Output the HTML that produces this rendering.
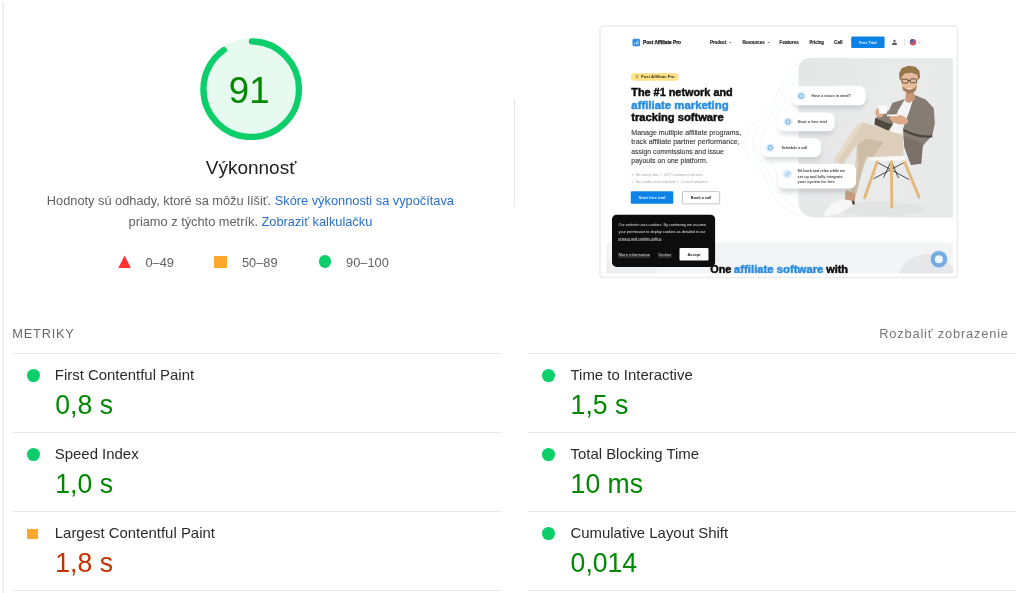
<!DOCTYPE html>
<html lang="sk">
<head>
<meta charset="utf-8">
<title>Výkonnosť</title>
<style>
html,body{margin:0;padding:0;background:#fff;}
body{width:1024px;height:593px;position:relative;overflow:hidden;font-family:"Liberation Sans",Arial,sans-serif;color:#212121;}
.abs{position:absolute;white-space:nowrap;}
.vline-left{position:absolute;left:2.1px;top:2px;width:1.7px;height:591px;background:#efefef;}
.divider{position:absolute;left:514.2px;top:98.8px;width:1px;height:108.6px;background:#e6e6e6;}
.title{left:-3px;width:502px;text-align:center;top:154.5px;font-size:19px;line-height:26px;color:#212121;left:0;}
.desc{left:-0.6px;width:502px;text-align:center;font-size:12.8px;line-height:21.33px;color:#616161;}
.desc a{color:#2a6fce;text-decoration:none;}
.legend{font-size:12.8px;line-height:16px;color:#616161;}
.hline{position:absolute;height:1px;background:#ebebeb;}
.mhead{font-size:12.8px;letter-spacing:0.78px;color:#686868;line-height:16px;}
.dot{position:absolute;width:12.8px;height:12.8px;border-radius:50%;background:#0cce6b;}
.sq{position:absolute;width:10.6px;height:10.6px;background:#ffa72b;}
.mt{font-size:14.93px;line-height:20px;color:#2b2b2b;transform:scaleY(1.03);transform-origin:0 15px;}
.mv{font-size:26.6px;line-height:30px;transform:scaleY(1.06);transform-origin:0 24.2px;}
.pass{color:#080;}
.avg{color:#c33300;}
</style>
</head>
<body>
<div class="vline-left"></div>

<!-- gauge -->
<svg class="abs" style="left:199.5px;top:37.6px" width="102.4" height="102.4" viewBox="0 0 120 120">
  <circle cx="60" cy="60" r="59.6" fill="#e7faf0"/>
  <circle cx="60" cy="60" r="56" fill="none" stroke="#0cce6b" stroke-width="7.4" stroke-linecap="round"
          stroke-dasharray="316.3 351.86" transform="rotate(-89.1 60 60)"/>
</svg>
<div class="abs pass" id="g91" style="left:198px;width:102.4px;text-align:center;top:69.2px;font-size:36.6px;line-height:44px;">91</div>

<div class="abs title">Výkonnosť</div>
<div class="abs desc" style="top:190px;">Hodnoty sú odhady, ktoré sa môžu líšiť. <a>Skóre výkonnosti sa vypočítava</a></div>
<div class="abs desc" style="top:211.3px;">priamo z týchto metrík. <a>Zobraziť kalkulačku</a></div>

<!-- legend -->
<svg class="abs" style="left:117.6px;top:255px" width="14" height="14" viewBox="0 0 14 14"><polygon points="6.6,0.5 12.9,13.1 0.3,13.1" fill="#f33"/></svg>
<div class="abs legend" style="left:145.5px;top:254.6px;">0–49</div>
<div class="sq" style="left:214.4px;top:255.7px;width:12.6px;height:12.4px;"></div>
<div class="abs legend" style="left:242px;top:254.6px;">50–89</div>
<div class="dot" style="left:318.6px;top:255.2px;"></div>
<div class="abs legend" style="left:346.1px;top:254.6px;">90–100</div>

<div class="divider"></div>

<!-- metrics header -->
<div class="abs mhead" style="left:12.3px;top:326px;">METRIKY</div>
<div class="abs mhead" style="right:15.2px;top:326px;color:#757575;letter-spacing:0.84px;">Rozbaliť zobrazenie</div>

<!-- left column -->
<div class="hline" style="left:12.3px;width:490px;top:353px;"></div>
<div class="hline" style="left:12.3px;width:490px;top:432px;"></div>
<div class="hline" style="left:12.3px;width:490px;top:511px;"></div>
<div class="hline" style="left:12.3px;width:490px;top:590px;"></div>
<!-- right column -->
<div class="hline" style="left:528.2px;width:488.2px;top:353px;"></div>
<div class="hline" style="left:528.2px;width:488.2px;top:432px;"></div>
<div class="hline" style="left:528.2px;width:488.2px;top:511px;"></div>
<div class="hline" style="left:528.2px;width:488.2px;top:590px;"></div>

<div class="dot" style="left:27.2px;top:369px;"></div>
<div class="abs mt" style="left:54.8px;top:364.9px;">First Contentful Paint</div>
<div class="abs mv pass" style="left:55.3px;top:389.9px;">0,8 s</div>

<div class="dot" style="left:27.2px;top:448px;"></div>
<div class="abs mt" style="left:54.8px;top:443.9px;">Speed Index</div>
<div class="abs mv pass" style="left:55.3px;top:468.9px;">1,0 s</div>

<div class="sq" style="left:27.1px;top:528.8px;width:11.4px;height:10.4px;"></div>
<div class="abs mt" style="left:54.8px;top:522.9px;">Largest Contentful Paint</div>
<div class="abs mv avg" style="left:55.3px;top:547.9px;">1,8 s</div>

<div class="dot" style="left:542.2px;top:369px;"></div>
<div class="abs mt" style="left:570.5px;top:364.9px;">Time to Interactive</div>
<div class="abs mv pass" style="left:570.6px;top:389.9px;">1,5 s</div>

<div class="dot" style="left:542.2px;top:448px;"></div>
<div class="abs mt" style="left:570.5px;top:443.9px;">Total Blocking Time</div>
<div class="abs mv pass" style="left:570.6px;top:468.9px;">10 ms</div>

<div class="dot" style="left:542.2px;top:527px;"></div>
<div class="abs mt" style="left:570.5px;top:522.9px;">Cumulative Layout Shift</div>
<div class="abs mv pass" style="left:570.6px;top:547.9px;">0,014</div>

<!-- THUMBNAIL -->
<svg id="thumb" class="abs" style="left:0;top:0;" width="1024" height="593" viewBox="0 0 1024 593" font-family="Liberation Sans, Arial, sans-serif">
  <defs>
    <clipPath id="inner"><rect x="604.5" y="30" width="348.7" height="243.6"/></clipPath>
    <linearGradient id="herobg" x1="0" y1="0" x2="1" y2="0.25">
      <stop offset="0" stop-color="#e5e7e7"/><stop offset="0.6" stop-color="#e9eaea"/><stop offset="1" stop-color="#e8e9e9"/>
    </linearGradient>
    <filter id="soft" x="-5%" y="-5%" width="110%" height="110%"><feGaussianBlur stdDeviation="0.6"/></filter>
    <filter id="shadow" x="-20%" y="-30%" width="140%" height="190%"><feGaussianBlur stdDeviation="2"/></filter>
  </defs>
  <!-- frame -->
  <rect x="600" y="26" width="357.4" height="251.4" rx="3" fill="#fff" stroke="#ececec" stroke-width="1.5" filter="url(#soft)"/>
  <g clip-path="url(#inner)"><g filter="url(#soft)">
    <!-- NAV -->
    <g id="t-nav">
      <rect x="632.5" y="38.7" width="7.6" height="7.6" rx="1.5" fill="#2b8fe6"/>
      <path d="M634.6 44.4v-1.6M636.3 44.4v-2.6M638 44.4v-3.8" stroke="#cfe6fa" stroke-width="0.9" fill="none"/>
      <text x="643" y="44.3" font-size="5" font-weight="700" fill="#1a1a1a" stroke="#1a1a1a" stroke-width="0.25" textLength="37.9" lengthAdjust="spacingAndGlyphs">Post Affiliate Pro</text>
      <g font-size="4.5" font-weight="700" fill="#2a2a2a" stroke="#2a2a2a" stroke-width="0.18">
        <text x="709.9" y="43.9" textLength="16.6" lengthAdjust="spacingAndGlyphs">Product</text>
        <path d="M729.2 42l1 1 1-1" stroke="#333" stroke-width="0.6" fill="none"/>
        <text x="742.4" y="43.9" textLength="22.2" lengthAdjust="spacingAndGlyphs">Resources</text>
        <path d="M767.8 42l1 1 1-1" stroke="#333" stroke-width="0.6" fill="none"/>
        <text x="779.6" y="43.9" textLength="19.2" lengthAdjust="spacingAndGlyphs">Features</text>
        <text x="809.4" y="43.9" textLength="14.6" lengthAdjust="spacingAndGlyphs">Pricing</text>
        <text x="834.1" y="43.9" textLength="8.4" lengthAdjust="spacingAndGlyphs">Call</text>
      </g>
      <rect x="851.2" y="36.5" width="33.4" height="11.5" rx="1.2" fill="#0f82e6"/>
      <text x="867.9" y="43.8" font-size="4.3" font-weight="700" fill="#e8f3fd" text-anchor="middle" textLength="17.5" lengthAdjust="spacingAndGlyphs">Free Trial</text>
      <circle cx="894.5" cy="40.9" r="1.15" fill="#555"/>
      <path d="M892.1 45v-.6c0-1.2 1-1.9 2.4-1.9s2.4.7 2.4 1.9v.6z" fill="#555"/>
      <path d="M904.5 39.2v6.2" stroke="#cfcfcf" stroke-width="0.6"/>
      <circle cx="913" cy="42.3" r="3.2" fill="#c8566b"/>
      <path d="M909.8 42.3a3.2 3.2 0 0 1 3.2-3.2v3.2z" fill="#4a5aa0"/>
      <path d="M918.6 41.8l1 1 1-1" stroke="#777" stroke-width="0.55" fill="none"/>
    </g>
    <!-- HERO LEFT -->
    <g id="t-left">
      <rect x="630.8" y="73.1" width="47.9" height="7.7" rx="3.85" fill="#ffe28a"/>
      <circle cx="637" cy="76.4" r="1.1" fill="none" stroke="#6b5a1a" stroke-width="0.5"/>
      <path d="M636.5 78.3h1" stroke="#6b5a1a" stroke-width="0.5"/>
      <text x="641" y="78.4" font-size="4.2" font-weight="700" fill="#3a3210" textLength="33.7" lengthAdjust="spacingAndGlyphs">Post Affiliate Pro</text>
      <g font-size="10" font-weight="700" fill="#0e0e0e" stroke="#0e0e0e" stroke-width="0.45" stroke-linejoin="round">
        <text x="631.3" y="96.2" textLength="101.4" lengthAdjust="spacingAndGlyphs">The #1 network and</text>
        <text x="631.3" y="108.5" textLength="97.4" lengthAdjust="spacingAndGlyphs" fill="#2b8ddf" stroke="#2b8ddf">affiliate marketing</text>
        <text x="631.3" y="120.7" textLength="92.3" lengthAdjust="spacingAndGlyphs">tracking software</text>
      </g>
      <g font-size="7" fill="#3a3a3a" stroke="#3a3a3a" stroke-width="0.12">
        <text x="631.3" y="135" textLength="109.9" lengthAdjust="spacingAndGlyphs">Manage multiple affiliate programs,</text>
        <text x="631.3" y="144.2" textLength="108.4" lengthAdjust="spacingAndGlyphs">track affiliate partner performance,</text>
        <text x="631.3" y="153.6" textLength="92.6" lengthAdjust="spacingAndGlyphs">assign commissions and issue</text>
        <text x="631.3" y="162.9" textLength="76.3" lengthAdjust="spacingAndGlyphs">payouts on one platform.</text>
      </g>
      <g font-size="3.6" fill="#a9a9a9">
        <text x="631.3" y="175.8" textLength="71.5" lengthAdjust="spacingAndGlyphs">✓ No setup fee   ✓ 24/7 customer service</text>
        <text x="631.3" y="183" textLength="76.3" lengthAdjust="spacingAndGlyphs">✓ No credit card required   ✓ Cancel anytime</text>
      </g>
      <rect x="630.8" y="191.3" width="42.5" height="12.4" rx="1.2" fill="#0f82e6"/>
      <text x="652" y="199" font-size="4.2" font-weight="700" fill="#dcecfb" text-anchor="middle" textLength="27" lengthAdjust="spacingAndGlyphs">Start free trial</text>
      <rect x="682.5" y="191.6" width="37.2" height="12.3" rx="1.2" fill="#fff" stroke="#9c9c9c" stroke-width="0.6"/>
      <text x="701.1" y="199.2" font-size="4.2" font-weight="700" fill="#222" text-anchor="middle" textLength="20.5" lengthAdjust="spacingAndGlyphs">Book a call</text>
    </g>
    <!-- HERO RIGHT -->
    <g id="t-hero">
      <!-- faint contour lines -->
      <g fill="none" stroke="#eef4f9" stroke-width="0.9">
        <path d="M806 60C786 66 780 92 770 108S746 124 745 142 760 164 766 180 778 208 800 216"/>
        <path d="M802 68C788 74 782 96 774 111S754 127 753 142 766 162 771 177 782 200 799 208"/>
        <path d="M800 78C790 84 786 100 779 113S762 129 761 142 772 160 776 173 786 192 799 199"/>
      </g>
      <!-- gray hero bg -->
      <path d="M809.5 58.1H953.2V217.4H813.5a15 15 0 0 1-15-15V69.1a11 11 0 0 1 11-11z" fill="url(#herobg)"/>
      <!-- chair -->
      <ellipse cx="880" cy="209" rx="46" ry="7" fill="#dfe1e1" opacity=".7"/>
      <g stroke="#2f2f2f" stroke-width="0.85" fill="none">
        <path d="M878.4 162.9L909 179.5M903.5 162.900L873.800 178.600M891.200 161L883.600 177.500M891.200 161L898.500 178"/>
      </g>
      <g stroke="#e2b97f" stroke-width="3" stroke-linecap="round">
        <path d="M877.300 161.500L864.700 197.800"/>
        <path d="M904.600 162L919 197"/>
        <path d="M891.400 161L891.800 207"/>
      </g>
      <path d="M869.100 156.200H906.200L905 160.400H870.600z" fill="#f8f8f8"/>
      <!-- pants -->
      <path d="M902.500 130.400L881.200 127.600 862.700 122.600 857.100 124.800 847.800 137.800 835.800 157.300 833 161 843.200 164.700 852.500 149.900 857.100 145.200 855.200 165.600 846 189.700 856.200 193.500 863.600 165.600 867.300 156.400 871.900 157.300 903.500 155.400z" fill="#ddcfbc"/>
      <path d="M857.100 145.200L866 138.500 884 142 871.900 157.300 867.300 156.400 863.600 165.600 856.200 193.500 851 191.600 858.500 165z" fill="#cdbda7"/>
      <path d="M862.700 122.600L857.100 124.800 847.800 137.800 835.800 157.300 833 161 837 162.500 851 141 860 128z" fill="#e6dac9"/>
      <!-- ankle + shoe -->
      <path d="M845.600 190l10.200 3.600-1.600 9.400-9.600-2z" fill="#c99b7b"/>
      <path d="M823.700 212.900L831.100 204.600 842.300 199 853.400 200.900 855.200 204.600 838.500 213.900 825.600 216.600z" fill="#f7f7f7"/>
      <path d="M851.600 200.200l2.600.7.800 3-2.200 1z" fill="#4a4540"/>
      <!-- jacket tail + right panel -->
      <path d="M914.600 95.100L925.700 99.600 933.800 108.200 934.800 123.400 932.300 135.500 925.700 142.600 922.900 146 921.100 163.800 910.900 164.700 904.400 147.100 903.400 134.100 902.900 128.400 909.500 110.200z" fill="#857b73"/>
      <path d="M921.100 163.800L910.900 164.700 904.400 147.100 903.500 136 922.500 143.500z" fill="#7a7068"/>
      <!-- left panel / arm -->
      <path d="M904.900 99.100L892.300 103.100 889.300 110.200 875.100 118.300 874.600 124.400 888.300 130.500 892.800 123.400 890.300 130.500 898.400 110.200z" fill="#857b73"/>
      <path d="M875.100 118.300L889.300 123.400 892.800 124.400 888.300 130.500 874.600 124.400z" fill="#4f4842"/>
      <!-- shirt -->
      <path d="M905.500 100.100L912.500 100.100 909.500 110.200 902.900 128.400 902.400 134.500 890.300 131.500 898.400 110.200z" fill="#f4f4f4"/>
      <!-- forearm shadow -->
      <path d="M904.500 130.600Q917 137.600 931.200 136.400" stroke="#4b443f" stroke-width="2.300" fill="none" stroke-linecap="round"/>
      <!-- hands + cup -->
      <ellipse cx="899" cy="119.500" rx="9.600" ry="4.600" fill="#dcab8b" transform="rotate(14 899 119.500)"/>
      <ellipse cx="879.600" cy="112.600" rx="4.300" ry="5" fill="#dcab8b"/>
      <path d="M878.300 105.400h9.400l-.8 8.400h-7.700z" fill="#fbfbfb"/>
      <rect x="886.800" y="114.600" width="11.500" height="1.700" rx=".85" fill="#f7f7f7"/>
      <!-- neck, face, hair -->
      <path d="M905.9 92.4L914 91.7 915.3 99.1 909.500 103 905.2 101.2z" fill="#c99879"/>
      <path d="M901.2 77.5L902.5 89 909.3 94.4 916 90.4 918 78.9 916.7 73.500 904.500 72.800z" fill="#e6bb9c"/>
      <path d="M902.100 86.300L903.200 90.400 909.300 94.200 915.300 91 917.300 85.600 914 88.500 909.300 89.800 905.200 88.500z" fill="#9b7657" opacity=".9"/>
      <path d="M906.500 88.200q2.800 1.800 5.600 0" stroke="#f4ece6" stroke-width="0.8" fill="none"/>
      <path d="M899.8 80.200L899.100 73.500 901.800 68.100 908.600 65.700 915.300 66.700 919.400 70.800 920 77.500 918 80.200 917.300 74.800 911.300 72.800 904.500 73.500 901.800 76.900 901.200 80.200z" fill="#96744a"/>
      <g fill="none" stroke="#33261e" stroke-width="0.7">
        <rect x="902" y="79.200" width="6" height="3.800" rx=".8"/>
        <rect x="910.300" y="78.900" width="6.200" height="3.800" rx=".8"/>
        <path d="M908 80.600h2.300"/>
      </g>
      <!-- cards -->
      <g>
        <g fill="#9aa3ab" opacity=".35" filter="url(#shadow)">
          <rect x="793" y="92" width="72" height="17" rx="6"/>
          <rect x="779" y="118" width="55" height="17" rx="6"/>
          <rect x="763" y="144" width="58" height="17" rx="6"/>
          <rect x="779" y="172" width="76" height="21" rx="6"/>
        </g>
        <g fill="#fff">
          <rect x="791.700" y="86.100" width="74" height="19.200" rx="6.500"/>
          <rect x="777.300" y="112.500" width="57.400" height="18.700" rx="6.500"/>
          <rect x="761.600" y="138.300" width="59.600" height="18.700" rx="6.500"/>
          <rect x="777.900" y="164.100" width="78.300" height="24.400" rx="6.500"/>
        </g>
        <g fill="#d5e8f8">
          <circle cx="801.300" cy="96" r="4.300"/>
          <circle cx="788" cy="121.900" r="4.300"/>
          <circle cx="770.200" cy="147.700" r="4.300"/>
          <circle cx="787.500" cy="174" r="4.300"/>
        </g>
        <g fill="none" stroke="#4c9be0" stroke-width="0.8">
          <circle cx="801.300" cy="96" r="2"/>
          <circle cx="788" cy="121.900" r="2"/>
          <circle cx="770.200" cy="147.700" r="2"/>
          <path d="M786 175.500l3-3"/>
        </g>
        <g font-size="3.900" font-weight="700" fill="#484848">
          <text x="811.600" y="97" textLength="39.200" lengthAdjust="spacingAndGlyphs">Have a vision in mind?</text>
          <text x="797.600" y="123" textLength="29.300" lengthAdjust="spacingAndGlyphs">Start a free trial</text>
          <text x="781.400" y="148.900" textLength="25.800" lengthAdjust="spacingAndGlyphs">Schedule a call</text>
          <text x="797.600" y="172.300" textLength="47.400" lengthAdjust="spacingAndGlyphs">Sit back and relax while we</text>
          <text x="797.600" y="177.500" textLength="45" lengthAdjust="spacingAndGlyphs">set up and fully integrate</text>
          <text x="797.600" y="182.800" textLength="37" lengthAdjust="spacingAndGlyphs">your system for free</text>
        </g>
      </g>
    </g>
    <!-- BOTTOM -->
    <g id="t-bottom">
      <path d="M606.2 274V245.600a3 3 0 0 1 3-3H950.200a3 3 0 0 1 3 3V274z" fill="#f3f4f5"/>
      <circle cx="927" cy="285" r="31" fill="#e6e7e8"/>
      <rect x="606.200" y="262" width="50" height="12" fill="#eeeff0"/>
      <g font-size="10" font-weight="700" fill="#0e0e0e" stroke="#0e0e0e" stroke-width="0.45" stroke-linejoin="round">
        <text x="710.200" y="273.3" textLength="21.200" lengthAdjust="spacingAndGlyphs">One</text>
        <text x="734" y="273.3" textLength="89.400" lengthAdjust="spacingAndGlyphs" fill="#2b8ddf" stroke="#2b8ddf">affiliate software</text>
        <text x="826.200" y="273.3" textLength="21.800" lengthAdjust="spacingAndGlyphs">with</text>
      </g>
      <circle cx="938.900" cy="259.300" r="6.200" fill="#f4f9fd" stroke="#76ace0" stroke-width="4.400"/>
      <circle cx="938.900" cy="259.300" r="9" fill="none" stroke="#dcebf8" stroke-width="1"/>
    </g>
    <!-- COOKIE -->
    <g id="t-cookie">
      <rect x="612" y="214.700" width="103.100" height="52.200" rx="4.600" fill="#090909"/>
      <g font-size="3.700" fill="#e6e6e6">
        <text x="618.500" y="226.100" textLength="87.500" lengthAdjust="spacingAndGlyphs">Our website uses cookies. By continuing we assume</text>
        <text x="618.500" y="232.900" textLength="87" lengthAdjust="spacingAndGlyphs">your permission to deploy cookies as detailed in our</text>
        <text x="618.500" y="239.600" textLength="43" lengthAdjust="spacingAndGlyphs" text-decoration="underline">privacy and cookies policy.</text>
        <text x="618.500" y="255.800" textLength="31.600" lengthAdjust="spacingAndGlyphs" text-decoration="underline">More information</text>
        <text x="658.400" y="255.800" textLength="13.100" lengthAdjust="spacingAndGlyphs" text-decoration="underline">Decline</text>
      </g>
      <rect x="679.500" y="248.100" width="29" height="12.400" rx="1" fill="#fff"/>
      <text x="694" y="255.700" font-size="3.900" font-weight="700" fill="#222" text-anchor="middle" textLength="13" lengthAdjust="spacingAndGlyphs">Accept</text>
    </g>
  </g></g>
</svg>


</body>
</html>
